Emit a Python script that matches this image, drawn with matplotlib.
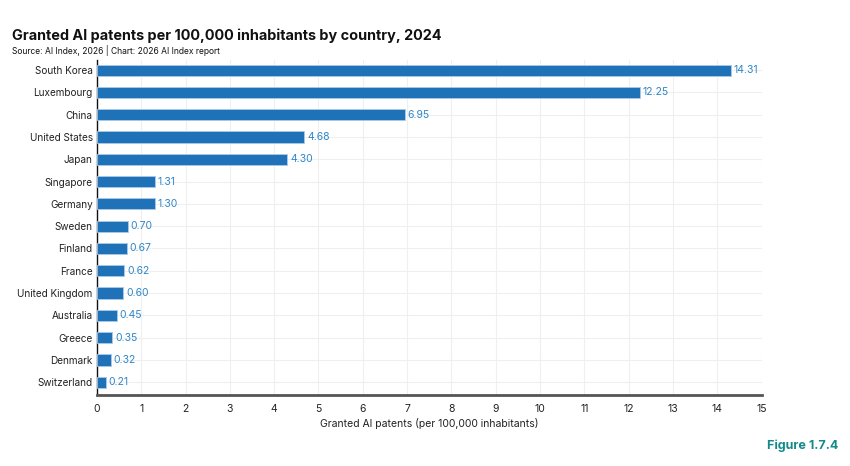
import matplotlib.pyplot as plt

plt.rcParams['font.family'] = ['Inter', 'DejaVu Sans']

countries = ['South Korea', 'Luxembourg', 'China', 'United States', 'Japan',
             'Singapore', 'Germany', 'Sweden', 'Finland', 'France',
             'United Kingdom', 'Australia', 'Greece', 'Denmark', 'Switzerland']
values = [14.31, 12.25, 6.95, 4.68, 4.30, 1.31, 1.30, 0.70, 0.67, 0.62,
          0.60, 0.45, 0.35, 0.32, 0.21]
xticks = list(range(0, 16))

bar_color = '#2072b8'
label_color = '#2e86c8'

fig = plt.figure(figsize=(8.5, 4.66), dpi=100)
ax = fig.add_axes([0.114, 0.152, 0.782, 0.719])

n = len(countries)
ypos = [n - 1 - i for i in range(n)]
ax.barh(ypos, values, height=0.5, color=bar_color, edgecolor='#a9cbe8', linewidth=0.6, zorder=3)
for y, v in zip(ypos, values):
    ax.text(v + 0.06, y, f'{v:.2f}', va='center', ha='left', fontsize=7.5, color=label_color, zorder=4)

ax.set_yticks(ypos)
ax.set_yticklabels(countries, fontsize=7.2, color='#222222')
ax.set_xticks(xticks)
ax.set_xticklabels([str(t) for t in xticks], fontsize=7.5, color='#222222')
ax.set_xlim(0, 15)
ax.set_ylim(-0.58, n - 1 + 0.45)
ax.tick_params(axis='y', length=0, pad=3)
ax.tick_params(axis='x', length=0, pad=6)

ax.grid(True, color='#efefef', linewidth=0.8, zorder=0)
for s in ['top', 'right']:
    ax.spines[s].set_visible(False)
ax.spines['left'].set_color('#111111')
ax.spines['left'].set_linewidth(1.0)
ax.spines['bottom'].set_color('#555555')
ax.spines['bottom'].set_linewidth(2.0)

ax.set_xlabel('Granted AI patents (per 100,000 inhabitants)', fontsize=7.5, color='#222222', labelpad=3)

fig.text(0.014, 0.914, 'Granted AI patents per 100,000 inhabitants by country, 2024',
         fontsize=10.4, fontweight='bold', color='#111111')
fig.text(0.014, 0.885, 'Source: AI Index, 2026 | Chart: 2026 AI Index report',
         fontsize=6.1, color='#111111')
fig.text(0.986, 0.036, 'Figure 1.7.4', fontsize=9, fontweight='bold', color='#138a8a', ha='right')

fig.savefig('out.png', dpi=100)
